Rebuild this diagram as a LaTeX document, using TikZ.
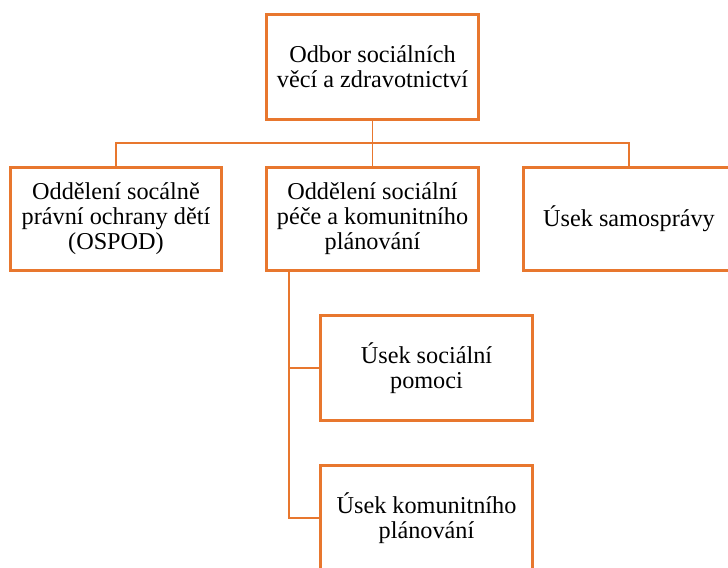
\documentclass[tikz,border=0pt]{standalone}
\usepackage{fontspec}
\setmainfont{Liberation Serif}
\usepackage{tikz}
\definecolor{orgorange}{HTML}{E8772E}
\tikzset{
    unitbox/.style={draw=orgorange, line width=1.7pt, fill=white, align=center,
        minimum width=4.24cm, minimum height=2.08cm, inner sep=2pt,
        font=\fontsize{13.8}{14.2}\selectfont},
    link/.style={draw=orgorange, line width=1.1pt}
}

\begin{document}
\begin{tikzpicture}[x=0.02cm, y=-0.02cm]
    % Page frame (boxes run over the edges)
    \clip (0,0) rectangle (728,568);

    % Head of the department
    \node[unitbox, minimum height=2.12cm] (odbor) at (372.5,67) {Odbor sociálních\\věcí a zdravotnictví};

    % Second level
    \node[unitbox] (ospod) at (116,219) {Oddělení socálně\\právní ochrany dětí\\(OSPOD)};
    \node[unitbox] (pece) at (372.5,219) {Oddělení sociální\\péče a komunitního\\plánování};
    \node[unitbox] (samosprava) at (629,219) {Úsek samosprávy};

    % Third level
    \node[unitbox, minimum height=2.12cm] (pomoc) at (426.5,368) {Úsek sociální\\pomoci};
    \node[unitbox, minimum height=2.12cm] (planovani) at (426.5,518) {Úsek komunitního\\plánování};

    % Connectors
    \coordinate (bus) at (372.5,143);
    \coordinate (trunk) at (289,270);
    \draw[link] (odbor.south) -- (pece.north);
    \draw[link] (ospod.north) |- (bus) -| (samosprava.north);
    \draw[link] (trunk |- pece.south) |- (pomoc.west);
    \draw[link] (trunk |- pece.south) |- (planovani.west);
\end{tikzpicture}
\end{document}
